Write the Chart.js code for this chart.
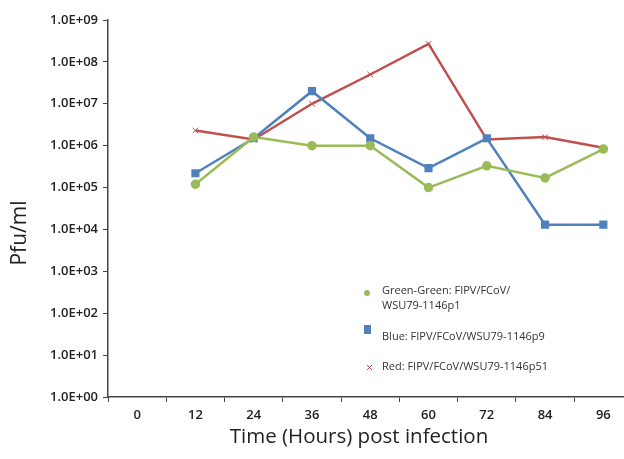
<!DOCTYPE html>
<html>
<head>
<meta charset="utf-8">
<script src="https://cdn.jsdelivr.net/npm/chart.js@4"></script>
<style>
  body { margin: 0; background: #fff; overflow: hidden; }
  #wrap { width: 624px; height: 459px; position: relative; overflow: hidden; }
</style>
</head>
<body>
<div id="wrap"><canvas id="chartCanvas" width="639" height="459"></canvas></div>
<script>
// values (pfu/ml)
const hours = ["0", "12", "24", "36", "48", "60", "72", "84", "96"];
const greenP1 = [null, 1.2e5, 1.6e6, 1.0e6, 1.0e6, 1.0e5, 3.3e5, 1.7e5, 8.3e5];
const blueP9 = [null, 2.2e5, 1.5e6, 2.0e7, 1.5e6, 2.9e5, 1.5e6, 1.3e4, 1.3e4];
const redP51 = [null, 2.3e6, 1.4e6, 1.0e7, 5.0e7, 2.7e8, 1.4e6, 1.6e6, 8.9e5];
const yTicks = [1, 1e1, 1e2, 1e3, 1e4, 1e5, 1e6, 1e7, 1e8, 1e9];

const legendItems = [
    { lines: ["Green-Green: FIPV/FCoV/", "WSU79-1146p1"], color: "#9bbb59", mark: "circle" },
    { lines: ["Blue: FIPV/FCoV/WSU79-1146p9"], color: "#4f81bd", mark: "square" },
    { lines: ["Red: FIPV/FCoV/WSU79-1146p51"], color: "#c0504d", mark: "x" }
];

function sci(v) {
    const e = Math.round(Math.log10(v));
    return "1.0E+" + String(e).padStart(2, "0");
}

const extras = {
    id: "extras",
    afterDraw(chart) {
        const ctx = chart.ctx;
        ctx.save();
        ctx.fillStyle = "#222";
        ctx.textAlign = "center";
        ctx.textBaseline = "middle";
        // x title
        ctx.font = "20.5px 'Open Sans'";
        ctx.fillText("Time (Hours) post infection", 359, 437);
        // y title
        ctx.translate(20, 233);
        ctx.rotate(-Math.PI / 2);
        ctx.font = "21px 'Open Sans'";
        ctx.fillText("Pfu/ml", 0, 0);
        ctx.restore();

        // legend
        ctx.save();
        ctx.font = "11px 'Open Sans'";
        ctx.textBaseline = "middle";
        ctx.textAlign = "left";
        const rows = [291, 337, 367];
        legendItems.forEach((item, i) => {
            const y = rows[i];
            ctx.fillStyle = item.color;
            ctx.strokeStyle = item.color;
            if (item.mark === "circle") {
                ctx.beginPath();
                ctx.arc(367, y + 2, 3, 0, Math.PI * 2);
                ctx.fill();
            } else if (item.mark === "square") {
                ctx.fillRect(364, y - 12, 7, 9);
            } else {
                ctx.lineWidth = 1;
                ctx.beginPath();
                ctx.moveTo(367, y - 2); ctx.lineTo(372, y + 3);
                ctx.moveTo(372, y - 2); ctx.lineTo(367, y + 3);
                ctx.stroke();
            }
            ctx.fillStyle = "#333";
            item.lines.forEach((t, j) => ctx.fillText(t, 382, y + j * 15));
        });
        ctx.restore();
    }
};

const ctx = document.getElementById("chartCanvas").getContext("2d");
new Chart(ctx, {
    type: "line",
    data: {
        labels: hours,
        datasets: [
            {
                label: "Green-Green: FIPV/FCoV/WSU79-1146p1",
                data: greenP1,
                borderColor: "#9bbb59",
                backgroundColor: "#9bbb59",
                borderWidth: 2.5,
                pointStyle: "circle",
                pointRadius: 3.5
            },
            {
                label: "Blue: FIPV/FCoV/WSU79-1146p9",
                data: blueP9,
                borderColor: "#4f81bd",
                backgroundColor: "#4f81bd",
                borderWidth: 2.5,
                pointStyle: "rect",
                pointRadius: 4
            },
            {
                label: "Red: FIPV/FCoV/WSU79-1146p51",
                data: redP51,
                borderColor: "#c0504d",
                backgroundColor: "#c0504d",
                borderWidth: 2.5,
                pointStyle: "crossRot",
                pointRadius: 4,
                pointBorderWidth: 1
            }
        ]
    },
    options: {
        responsive: false,
        animation: false,
        layout: { padding: { top: 20, right: 0, left: 0, bottom: 0 } },
        plugins: {
            legend: { display: false },
            tooltip: { enabled: false }
        },
        scales: {
            x: {
                offset: true,
                grid: { drawOnChartArea: false, offset: true, tickLength: 5, color: "#444" },
                border: { color: "#444", width: 1.5 },
                ticks: { color: "#222", font: { family: "'Open Sans'", size: 13, weight: "600" }, padding: 5 },
                afterFit(scale) { scale.height = 62; }
            },
            y: {
                type: "logarithmic",
                min: 1,
                max: 1e9,
                afterBuildTicks(scale) { scale.ticks = yTicks.map(v => ({ value: v })); },
                grid: { drawOnChartArea: false, tickLength: 5, color: "#444" },
                border: { color: "#444", width: 1.5 },
                ticks: {
                    color: "#222",
                    font: { family: "'Open Sans'", size: 13, weight: "600" },
                    padding: 5,
                    callback: v => sci(v)
                },
                afterFit(scale) { scale.width = 108; }
            }
        }
    },
    plugins: [extras]
});
</script>
</body>
</html>
